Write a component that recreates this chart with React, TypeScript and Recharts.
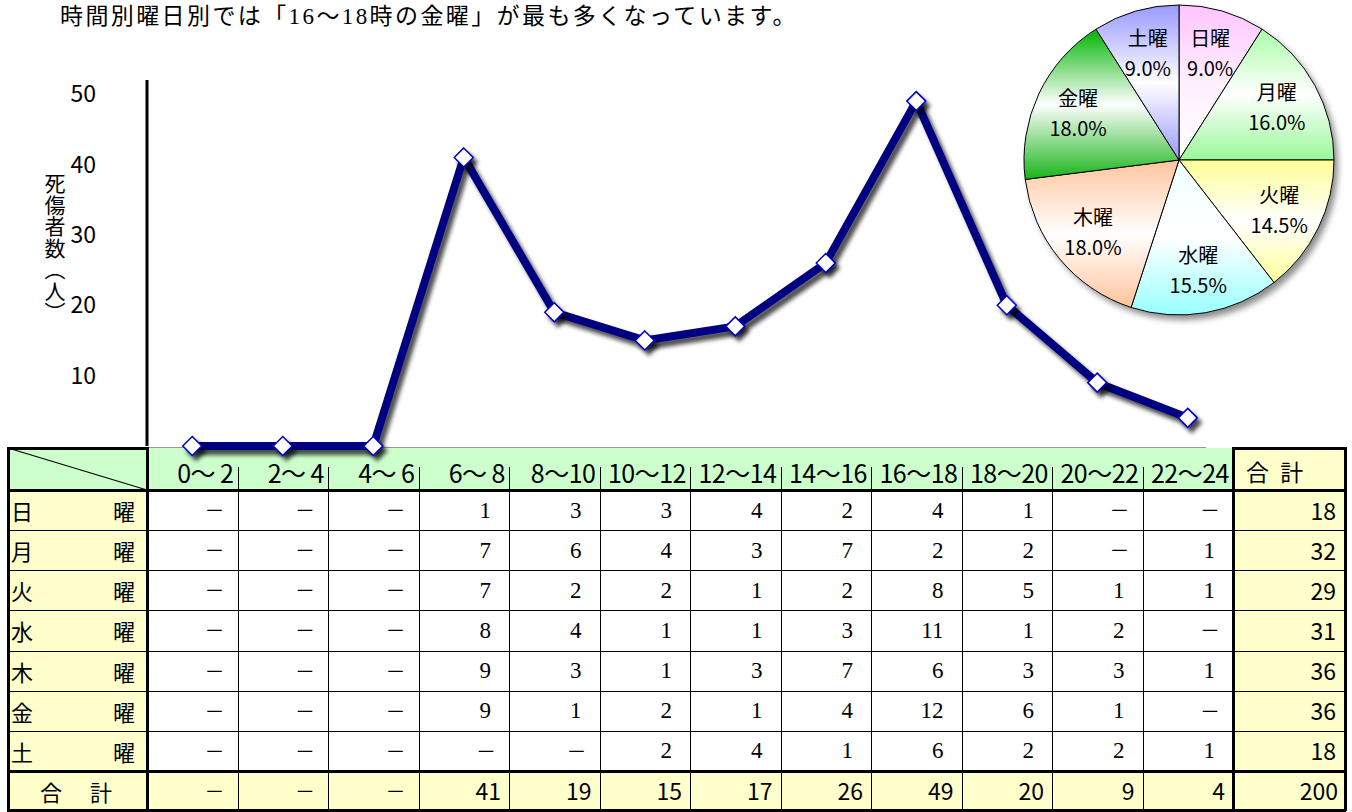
import React from 'react';
import { LineChart, Line, XAxis, YAxis, PieChart, Pie, Cell } from 'recharts';

// time slots (x categories / table columns)
const SLOTS = ['0～ 2', '2～ 4', '4～ 6', '6～ 8', '8～10', '10～12', '12～14', '14～16', '16～18', '18～20', '20～22', '22～24'];
const DAYS = ['日', '月', '火', '水', '木', '金', '土'];

// casualties per day of week and time slot
const SUN = [0, 0, 0, 1, 3, 3, 4, 2, 4, 1, 0, 0];
const MON = [0, 0, 0, 7, 6, 4, 3, 7, 2, 2, 0, 1];
const TUE = [0, 0, 0, 7, 2, 2, 1, 2, 8, 5, 1, 1];
const WED = [0, 0, 0, 8, 4, 1, 1, 3, 11, 1, 2, 0];
const THU = [0, 0, 0, 9, 3, 1, 3, 7, 6, 3, 3, 1];
const FRI = [0, 0, 0, 9, 1, 2, 1, 4, 12, 6, 1, 0];
const SAT = [0, 0, 0, 0, 0, 2, 4, 1, 6, 2, 2, 1];
const DAY_ROWS = [SUN, MON, TUE, WED, THU, FRI, SAT];

const SLOT_TOTALS = [0, 0, 0, 41, 19, 15, 17, 26, 49, 20, 9, 4];
const DAY_TOTALS = [18, 32, 29, 31, 36, 36, 18];
const GRAND_TOTAL = 200;

const Y_TICKS = [10, 20, 30, 40, 50];

// pie gradients: [top, middle, bottom]
const PIE_FILLS = [
  ['#ffc4ff', '#fff0ff', '#ffffff'],
  ['#a8ffa8', '#ffffff', '#99f899'],
  ['#ffff99', '#ffffff', '#ffff99'],
  ['#f0ffff', '#ffffff', '#99ffff'],
  ['#ffc49c', '#ffffff', '#ffc49c'],
  ['#00b400', '#ffffff', '#18b418'],
  ['#9999ff', '#ffffff', '#9999ff'],
];

const SANS = '"Noto Sans CJK JP", "Noto Sans", sans-serif';
const SERIF = '"Liberation Serif", "DejaVu Serif", "Noto Sans CJK JP", serif';

const lineData = SLOTS.map((s, i) => ({ slot: s, value: SLOT_TOTALS[i] }));
const pieData = DAYS.map((d, i) => ({ name: d + '曜', value: DAY_TOTALS[i] }));

// table geometry
const T_LEFT = 8;
const LABEL_R = 147;
const SLOT_W = 90.5;
const TOTAL_L = LABEL_R + SLOT_W * 12;
const T_RIGHT = 1345;
const HEAD_TOP = 448;
const HEAD_BOT = 490;
const ROW_H = 40.14;
const SUM_TOP = 771;
const T_BOT = 810;

const GREEN = '#ccffcc';
const YELLOW = '#ffffcc';

const Diamond = (props: any) => {
  const { cx, cy, index } = props;
  if (cx == null || cy == null) return null;
  const r = 9.5;
  return (
    <path
      key={`d${index}`}
      d={`M${cx},${cy - r}L${cx + r},${cy}L${cx},${cy + r}L${cx - r},${cy}Z`}
      fill="#fff"
      stroke="#0000cc"
      strokeWidth={1.5}
      filter="url(#lineShadow)"
    />
  );
};

const renderPieLabel = (p: any) => {
  const RAD = Math.PI / 180;
  const r = p.outerRadius * 0.72;
  const x = p.cx + r * Math.cos(-p.midAngle * RAD);
  const y = p.cy + r * Math.sin(-p.midAngle * RAD);
  const pct = ((p.value / GRAND_TOTAL) * 100).toFixed(1) + '%';
  return (
    <text x={x} y={y} textAnchor="middle" fill="#000" fontSize={20} fontFamily={SANS}>
      <tspan x={x} y={y - 15} dominantBaseline="central">{p.name}</tspan>
      <tspan x={x} y={y + 15} dominantBaseline="central">{pct}</tspan>
    </text>
  );
};

function box(left: number, top: number, width: number, height: number, bg: string, key: string) {
  return <div key={key} style={{ position: 'absolute', left, top, width, height, background: bg }} />;
}

function Table() {
  const els: React.ReactNode[] = [];
  const rowTop = (r: number) => HEAD_BOT + r * ROW_H;

  // backgrounds
  els.push(box(T_LEFT, HEAD_TOP, TOTAL_L - T_LEFT, HEAD_BOT - HEAD_TOP, GREEN, 'bg-head'));
  els.push(box(TOTAL_L, HEAD_TOP, T_RIGHT - TOTAL_L, T_BOT - HEAD_TOP, YELLOW, 'bg-totcol'));
  els.push(box(T_LEFT, HEAD_BOT, LABEL_R - T_LEFT, SUM_TOP - HEAD_BOT, YELLOW, 'bg-label'));
  els.push(box(T_LEFT, SUM_TOP, T_RIGHT - T_LEFT, T_BOT - SUM_TOP, YELLOW, 'bg-sum'));

  const cellText = (key: string, left: number, top: number, width: number, height: number, text: string, style: React.CSSProperties) => (
    <div
      key={key}
      style={{
        position: 'absolute', left, top, width, height, display: 'flex', alignItems: 'center',
        boxSizing: 'border-box', whiteSpace: 'pre', lineHeight: 1, color: '#000', ...style,
      }}
    >
      {text}
    </div>
  );

  // header
  SLOTS.forEach((s, c) => {
    els.push(cellText(`h${c}`, LABEL_R + c * SLOT_W, HEAD_TOP + 4, SLOT_W, HEAD_BOT - HEAD_TOP - 2, s,
      { justifyContent: 'flex-end', paddingRight: 4, fontFamily: SANS, fontSize: 25, letterSpacing: -0.5 }));
  });
  els.push(cellText('htot', TOTAL_L, HEAD_TOP + 2, T_RIGHT - TOTAL_L, HEAD_BOT - HEAD_TOP, '合 計',
    { justifyContent: 'flex-start', paddingLeft: 13, fontFamily: SANS, fontSize: 23, letterSpacing: 3 }));

  // day rows
  DAY_ROWS.forEach((row, r) => {
    const top = rowTop(r);
    els.push(
      <div key={`lab${r}`} style={{
        position: 'absolute', left: T_LEFT, top, width: LABEL_R - T_LEFT, height: ROW_H, display: 'flex',
        alignItems: 'center', justifyContent: 'space-between', padding: '0 12px 0 3px', boxSizing: 'border-box',
        fontFamily: SANS, fontSize: 22, lineHeight: 1,
      }}>
        <span>{DAYS[r]}</span><span>曜</span>
      </div>
    );
    row.forEach((v, c) => {
      const dash = v === 0;
      els.push(cellText(`c${r}-${c}`, LABEL_R + c * SLOT_W, top, SLOT_W, ROW_H, dash ? '－' : String(v),
        { justifyContent: 'flex-end', paddingRight: dash ? 13 : 18, fontFamily: dash ? SANS : SERIF, fontSize: dash ? 20 : 23 }));
    });
    els.push(cellText(`t${r}`, TOTAL_L, top, T_RIGHT - TOTAL_L, ROW_H, String(DAY_TOTALS[r]),
      { justifyContent: 'flex-end', paddingRight: 9, fontFamily: SANS, fontSize: 23 }));
  });

  // totals row
  els.push(
    <div key="sumlab" style={{
      position: 'absolute', left: T_LEFT, top: SUM_TOP, width: LABEL_R - T_LEFT, height: T_BOT - SUM_TOP,
      display: 'flex', alignItems: 'center', justifyContent: 'space-between', padding: '0 35px 0 32px',
      boxSizing: 'border-box', fontFamily: SANS, fontSize: 22, lineHeight: 1,
    }}>
      <span>合</span><span>計</span>
    </div>
  );
  SLOT_TOTALS.forEach((v, c) => {
    const dash = v === 0;
    els.push(cellText(`s${c}`, LABEL_R + c * SLOT_W, SUM_TOP, SLOT_W, T_BOT - SUM_TOP, dash ? '－' : String(v),
      { justifyContent: 'flex-end', paddingRight: dash ? 13 : 8, fontFamily: SANS, fontSize: dash ? 20 : 23 }));
  });
  els.push(cellText('grand', TOTAL_L, SUM_TOP, T_RIGHT - TOTAL_L, T_BOT - SUM_TOP, String(GRAND_TOTAL),
    { justifyContent: 'flex-end', paddingRight: 7, fontFamily: SANS, fontSize: 23 }));

  // thin grid lines
  for (let r = 1; r < 7; r++) {
    els.push(box(T_LEFT, Math.round(rowTop(r)), T_RIGHT - T_LEFT, 1, '#000', `hl${r}`));
  }
  for (let c = 1; c < 12; c++) {
    const x = Math.round(LABEL_R + c * SLOT_W);
    els.push(box(x, HEAD_BOT, 1, T_BOT - HEAD_BOT, '#000', `vl${c}`));
    els.push(box(x, 467, 1, HEAD_BOT - 467, '#000', `vh${c}`));
  }
  // header top: plot area edge in the middle, thick at ends
  els.push(box(LABEL_R, HEAD_TOP - 1, 1206 - LABEL_R, 1, '#999', 'topgray'));
  els.push(box(T_LEFT - 1, HEAD_TOP - 1, LABEL_R - T_LEFT + 2, 3, '#000', 'topL'));
  els.push(box(TOTAL_L - 1, HEAD_TOP - 1, T_RIGHT - TOTAL_L + 2, 3, '#000', 'topR'));
  // thick lines
  els.push(box(T_LEFT - 1, HEAD_BOT - 1, T_RIGHT - T_LEFT + 2, 3, '#000', 'headbot'));
  els.push(box(T_LEFT - 1, SUM_TOP - 1, T_RIGHT - T_LEFT + 2, 3, '#000', 'sumtop'));
  els.push(box(T_LEFT - 1, T_BOT - 1, T_RIGHT - T_LEFT + 2, 3, '#000', 'bot'));
  els.push(box(T_LEFT - 1, HEAD_TOP - 1, 3, T_BOT - HEAD_TOP + 2, '#000', 'left'));
  els.push(box(LABEL_R - 1, HEAD_TOP - 1, 3, T_BOT - HEAD_TOP + 2, '#000', 'labr'));
  els.push(box(Math.round(TOTAL_L) - 1, HEAD_TOP - 1, 3, T_BOT - HEAD_TOP + 2, '#000', 'totl'));
  els.push(box(T_RIGHT - 1, HEAD_TOP - 1, 3, T_BOT - HEAD_TOP + 2, '#000', 'right'));

  // diagonal in the corner cell
  els.push(
    <svg key="diag" style={{ position: 'absolute', left: T_LEFT, top: HEAD_TOP, overflow: 'visible' }}
      width={LABEL_R - T_LEFT} height={HEAD_BOT - HEAD_TOP}>
      <line x1={0} y1={0} x2={LABEL_R - T_LEFT} y2={HEAD_BOT - HEAD_TOP} stroke="#000" strokeWidth={1.2} />
    </svg>
  );

  return <div style={{ position: 'absolute', left: 0, top: 0, zIndex: 1 }}>{els}</div>;
}

export default function App() {
  return (
    <div style={{ position: 'absolute', left: 0, top: 0, width: 1352, height: 812, background: '#fff', overflow: 'hidden' }}>
      <div style={{ position: 'absolute', left: 60, top: 5, fontFamily: SERIF, fontSize: 23, letterSpacing: 2.4, lineHeight: 1, whiteSpace: 'nowrap', color: '#000' }}>
        時間別曜日別では「16～18時の金曜」が最も多くなっています。
      </div>

      <div style={{
        position: 'absolute', left: 44, top: 173, writingMode: 'vertical-rl', fontFamily: SANS, fontSize: 21,
        letterSpacing: 0.5, lineHeight: 1, color: '#000', zIndex: 2,
      }}>
        死傷者数（人）
      </div>

      <Table />

      <div style={{ position: 'absolute', left: 0, top: 0, zIndex: 2 }}>
        <LineChart width={1352} height={470} data={lineData} margin={{ top: 80, right: 119, bottom: 24, left: 87 }}>
          <defs>
            <filter id="lineShadow" filterUnits="userSpaceOnUse" x={0} y={0} width={1352} height={480}>
              <feDropShadow dx={4} dy={5} stdDeviation={2} floodColor="#000" floodOpacity={0.7} />
            </filter>
          </defs>
          <XAxis dataKey="slot" hide padding={{ left: SLOT_W / 2, right: SLOT_W / 2 }} />
          <YAxis
            width={60}
            domain={[0, 52]}
            ticks={Y_TICKS}
            tickLine={false}
            tickSize={0}
            tickMargin={51}
            axisLine={{ stroke: '#000', strokeWidth: 3 }}
            tick={{ fill: '#000', fontSize: 23, fontFamily: SANS }}
          />
          <Line
            dataKey="value"
            stroke="#000080"
            strokeWidth={8}
            strokeLinejoin="round"
            filter="url(#lineShadow)"
            dot={Diamond}
            activeDot={false}
            isAnimationActive={false}
          />
        </LineChart>
      </div>

      <div style={{
        position: 'absolute', left: 1028, top: 10, width: 310, height: 310, borderRadius: '50%',
        background: 'rgba(0,0,0,0.45)', filter: 'blur(3px)', zIndex: 3,
      }} />
      <div style={{ position: 'absolute', left: 1009, top: 0, zIndex: 3 }}>
        <PieChart width={340} height={330} margin={{ top: 0, right: 0, bottom: 0, left: 0 }}>
          <defs>
            {PIE_FILLS.map((f, i) => (
              <linearGradient key={i} id={`pg${i}`} x1="0" y1="0" x2="0" y2="1">
                <stop offset="0%" stopColor={f[0]} />
                <stop offset="50%" stopColor={f[1]} />
                <stop offset="100%" stopColor={f[2]} />
              </linearGradient>
            ))}
          </defs>
          <Pie
            data={pieData}
            dataKey="value"
            nameKey="name"
            cx={170}
            cy={160}
            outerRadius={155}
            startAngle={90}
            endAngle={-270}
            stroke="#000"
            strokeWidth={1}
            label={renderPieLabel}
            labelLine={false}
            isAnimationActive={false}
          >
            {pieData.map((d, i) => (
              <Cell key={d.name} fill={`url(#pg${i})`} />
            ))}
          </Pie>
        </PieChart>
      </div>
    </div>
  );
}
